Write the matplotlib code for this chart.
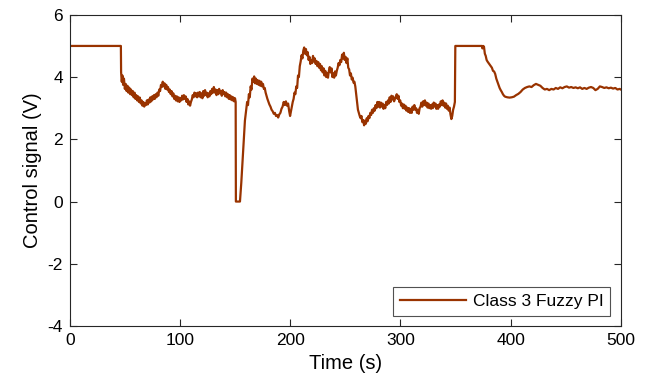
import matplotlib
matplotlib.use("Agg")
import matplotlib.pyplot as plt

plt.rcParams['font.family'] = ['Liberation Sans', 'DejaVu Sans']
plt.rcParams['axes.unicode_minus'] = False

# Control signal (time in s, signal in V)
t = [0, 46.2, 46.4, 47.0, 47.6, 48.2, 49.0, 49.8, 50.6, 51.4, 52.2, 53.0, 53.8, 54.6, 55.4, 56.2,
     57.0, 57.8, 58.6, 59.4, 60.2, 61.0, 61.8, 62.6, 63.4, 64.2, 65.0, 65.8, 66.6, 67.4, 68.2,
     69.0, 69.8, 70.6, 71.4, 72.2, 73.0, 73.8, 74.6, 75.4, 76.2, 77.0, 77.8, 78.6, 79.4, 80.2,
     81.0, 81.8, 82.6, 83.4, 84.2, 85.0, 85.8, 86.6, 87.4, 88.2, 89.0, 89.8, 90.6, 91.4, 92.2,
     93.0, 93.8, 94.6, 95.4, 96.2, 97.0, 97.8, 98.6, 99.4, 100.2, 101.0, 101.8, 102.6, 103.4,
     104.2, 105.0, 105.8, 106.6, 107.4, 108.2, 109.0, 109.8, 110.6, 111.4, 112.2, 113.0, 113.8,
     114.6, 115.4, 116.2, 117.0, 117.8, 118.6, 119.4, 120.2, 121.0, 121.8, 122.6, 123.4, 124.2,
     125.0, 125.8, 126.6, 127.4, 128.2, 129.0, 129.8, 130.6, 131.4, 132.2, 133.0, 133.8, 134.6,
     135.4, 136.2, 137.0, 137.8, 138.6, 139.4, 140.2, 141.0, 141.8, 142.6, 143.4, 144.2, 145.0,
     145.8, 146.6, 147.4, 148.2, 149.0, 149.8, 150.4, 150.6, 154.3, 155.5, 157.0, 158.8, 160.0,
     160.8, 161.6, 162.4, 163.2, 164.0, 164.8, 165.6, 166.4, 167.2, 168.0, 168.8, 169.6, 170.4,
     171.2, 172.0, 172.8, 173.6, 174.4, 175.2, 176.0, 176.8, 177.6, 178.4, 179.2, 180, 181, 182,
     183, 184, 185, 186, 187, 188, 189, 190, 191, 192, 193, 194, 195, 196, 197, 198, 199, 199.8,
     200.6, 201.4, 202.2, 203.0, 203.8, 204.6, 205.4, 206.2, 207.0, 207.8, 208.6, 209.4, 210.2,
     211.0, 211.8, 212.6, 213.4, 214.2, 215.0, 215.8, 216.6, 217.4, 218.2, 219.0, 219.8, 220.6,
     221.4, 222.2, 223.0, 223.8, 224.6, 225.4, 226.2, 227.0, 227.8, 228.6, 229.4, 230.2, 231.0,
     231.8, 232.6, 233.4, 234.2, 235.0, 235.8, 236.6, 237.4, 238.2, 239.0, 239.8, 240.6, 241.4,
     242.2, 243.0, 243.8, 244.6, 245.4, 246.2, 247.0, 247.8, 248.6, 249.4, 250.2, 251.0, 251.8,
     252.6, 253.4, 254.2, 255.0, 255.8, 256.6, 257.4, 258.2, 259.0, 259.8, 260.6, 261.4, 262.2,
     263.0, 263.8, 264.6, 265.4, 266.2, 267.0, 267.8, 268.6, 269.4, 270.2, 271.0, 271.8, 272.6,
     273.4, 274.2, 275.0, 275.8, 276.6, 277.4, 278.2, 279.0, 279.8, 280.6, 281.4, 282.2, 283.0,
     283.8, 284.6, 285.4, 286.2, 287.0, 287.8, 288.6, 289.4, 290.2, 291.0, 291.8, 292.6, 293.4,
     294.2, 295.0, 295.8, 296.6, 297.4, 298.2, 299.0, 299.8, 300.6, 301.4, 302.2, 303.0, 303.8,
     304.6, 305.4, 306.2, 307.0, 307.8, 308.6, 309.4, 310.2, 311.0, 311.8, 312.6, 313.4, 314.2,
     315.0, 315.8, 316.6, 317.4, 318.2, 319.0, 319.8, 320.6, 321.4, 322.2, 323.0, 323.8, 324.6,
     325.4, 326.2, 327.0, 327.8, 328.6, 329.4, 330.2, 331.0, 331.8, 332.6, 333.4, 334.2, 335.0,
     335.8, 336.6, 337.4, 338.2, 339.0, 339.8, 340.6, 341.4, 342.2, 343.0, 343.8, 344.6, 345.4,
     346.2, 347.0, 347.8, 348.6, 349.4, 349.8, 374.0, 374.4, 375.0, 375.8, 376.6, 377.4, 378.2,
     379, 380, 381, 382, 383, 384, 385, 386, 387, 388, 389, 390, 391, 392, 393, 394, 395, 397,
     399, 401, 403, 405, 407, 409, 411, 413, 415, 417, 419, 421, 423, 425, 427, 429, 431, 433,
     435, 437, 439, 441, 443, 445, 447, 449, 451, 453, 455, 457, 459, 461, 463, 465, 467, 469,
     471, 473, 475, 477, 479, 481, 483, 485, 487, 489, 491, 493, 495, 497, 499, 500]

u = [5.0, 5.0, 4.15, 3.85, 4.05, 3.75, 3.95, 3.62, 3.78, 3.55, 3.72, 3.5, 3.66, 3.45, 3.6, 3.42,
     3.55, 3.35, 3.5, 3.3, 3.42, 3.25, 3.38, 3.2, 3.34, 3.15, 3.25, 3.08, 3.2, 3.05, 3.15,
     3.1, 3.25, 3.12, 3.28, 3.18, 3.35, 3.22, 3.38, 3.28, 3.42, 3.3, 3.45, 3.35, 3.5, 3.4,
     3.6, 3.55, 3.75, 3.68, 3.85, 3.7, 3.8, 3.62, 3.75, 3.6, 3.68, 3.52, 3.6, 3.45, 3.55,
     3.38, 3.48, 3.3, 3.4, 3.25, 3.38, 3.22, 3.35, 3.2, 3.32, 3.25, 3.4, 3.28, 3.42,
     3.3, 3.38, 3.2, 3.3, 3.12, 3.22, 3.08, 3.2, 3.28, 3.42, 3.35, 3.5, 3.38,
     3.48, 3.35, 3.5, 3.38, 3.52, 3.35, 3.48, 3.32, 3.55, 3.4, 3.58, 3.42, 3.5,
     3.35, 3.48, 3.38, 3.55, 3.45, 3.62, 3.5, 3.68, 3.5, 3.6, 3.42, 3.58, 3.45,
     3.62, 3.48, 3.55, 3.4, 3.58, 3.45, 3.52, 3.38, 3.5, 3.35, 3.45, 3.3, 3.42,
     3.28, 3.38, 3.25, 3.35, 3.22, 3.32, 3.2, 0.0, 0.0, 0.6, 1.5, 2.6, 2.95,
     3.2, 3.1, 3.45, 3.35, 3.7, 3.6, 3.95, 3.85, 4.02, 3.8, 3.95, 3.78, 3.9,
     3.75, 3.88, 3.72, 3.85, 3.7, 3.78, 3.62, 3.65, 3.5, 3.4, 3.3, 3.22, 3.12, 3.05,
     2.95, 2.9, 2.82, 2.85, 2.75, 2.78, 2.7, 2.8, 2.85, 2.98, 3.05, 3.2, 3.1, 3.22, 3.08, 3.15, 2.9, 2.75,
     2.9, 3.05, 3.2, 3.3, 3.5, 3.45, 3.7, 3.65, 4.05, 4.0, 4.35, 4.5, 4.7,
     4.6, 4.85, 4.95, 4.75, 4.9, 4.7, 4.8, 4.55, 4.65, 4.42, 4.55, 4.45, 4.68,
     4.5, 4.6, 4.42, 4.52, 4.35, 4.48, 4.3, 4.42, 4.22, 4.35, 4.15, 4.28, 4.05,
     4.2, 4.0, 4.12, 3.98, 4.2, 4.32, 4.15, 4.28, 4.0, 4.12, 3.98, 4.18, 4.05,
     4.2, 4.3, 4.45, 4.38, 4.55, 4.48, 4.72, 4.6, 4.78, 4.55, 4.65, 4.45, 4.6,
     4.3, 4.25, 4.05, 4.12, 3.92, 3.98, 3.82, 3.85, 3.7, 3.45, 3.2, 2.95, 2.85,
     2.75, 2.68, 2.75, 2.55, 2.62, 2.45, 2.6, 2.5, 2.68, 2.58, 2.75, 2.68, 2.85,
     2.78, 2.95, 2.85, 3.0, 2.92, 3.1, 3.0, 3.2, 3.05, 3.2, 3.02, 3.18, 3.05,
     3.15, 2.98, 3.1, 3.0, 3.2, 3.1, 3.25, 3.15, 3.35, 3.2, 3.4, 3.28, 3.38,
     3.22, 3.3, 3.35, 3.45, 3.3, 3.4, 3.2, 3.25, 3.08, 3.15, 3.0, 3.12, 2.98,
     3.08, 2.92, 3.02, 2.88, 3.0, 2.85, 2.98, 2.85, 3.05, 2.95, 3.1, 2.95, 3.0,
     2.85, 2.95, 2.82, 3.0, 3.05, 3.18, 3.05, 3.22, 3.1, 3.25, 3.08, 3.18, 3.02,
     3.15, 3.0, 3.1, 2.98, 3.12, 3.0, 3.18, 3.05, 3.15, 2.98, 3.1, 2.98, 3.12,
     3.05, 3.22, 3.1, 3.25, 3.08, 3.18, 3.02, 3.15, 2.98, 3.08, 2.92, 3.02, 2.8,
     2.65, 2.75, 2.95, 3.05, 3.2, 5.0, 5.0, 4.92, 5.0, 4.98, 4.75, 4.68, 4.55,
     4.5, 4.45, 4.4, 4.35, 4.3, 4.2, 4.18, 4.1, 3.95, 3.85, 3.75, 3.65, 3.58, 3.52, 3.45, 3.4, 3.37, 3.35,
     3.34, 3.35, 3.37, 3.42, 3.46, 3.52, 3.6, 3.65, 3.68, 3.7, 3.68, 3.74, 3.78, 3.75, 3.72, 3.65, 3.6, 3.62,
     3.58, 3.62, 3.6, 3.65, 3.62, 3.67, 3.64, 3.68, 3.7, 3.66, 3.68, 3.65, 3.67, 3.64, 3.67, 3.62, 3.65, 3.62,
     3.66, 3.68, 3.65, 3.58, 3.62, 3.7, 3.68, 3.65, 3.67, 3.64, 3.66, 3.63, 3.65, 3.6, 3.62, 3.6]

fig = plt.figure(figsize=(6.48, 3.80), dpi=100)
ax = fig.add_axes([0.108, 0.142, 0.850, 0.819])

ax.plot(t, u, color='#993300', linewidth=1.6, label='Class 3 Fuzzy PI')

ax.set_xlim(0, 500)
ax.set_ylim(-4, 6)
ax.set_xticks([0, 100, 200, 300, 400, 500])
ax.set_yticks([-4, -2, 0, 2, 4, 6])
ax.tick_params(direction='in', top=True, right=True, length=5, width=0.8,
               labelsize=12.5, colors='#262626', labelcolor='black', pad=5)
for s in ax.spines.values():
    s.set_color('#262626')
    s.set_linewidth(0.8)

ax.set_xlabel('Time (s)', fontsize=14.5)
ax.set_ylabel('Control signal (V)', fontsize=14.5)

leg = ax.legend(loc='lower right', fontsize=12.5, frameon=True, fancybox=False,
                edgecolor='#262626', borderaxespad=0.6, handlelength=3.8,
                handletextpad=0.4, borderpad=0.4)
leg.get_frame().set_linewidth(0.8)

fig.savefig('out.png', dpi=100)
